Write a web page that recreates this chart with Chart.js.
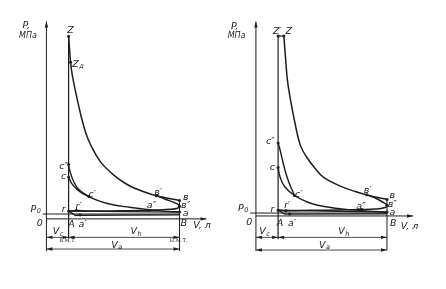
<!DOCTYPE html>
<html>
<head>
<meta charset="utf-8">
<script src="https://cdn.jsdelivr.net/npm/chart.js@4/dist/chart.umd.min.js"></script>
<style>
  html, body { margin: 0; padding: 0; background: #fff; }
  #wrap { position: relative; width: 446px; height: 289px; }
  .panel { position: absolute; top: 0; width: 223px; height: 289px; }
</style>
</head>
<body>
<div id="wrap">
  <div class="panel" style="left:0"><canvas id="left" width="223" height="289"></canvas></div>
  <div class="panel" style="left:223px"><canvas id="right" width="223" height="289"></canvas></div>
</div>
<script>
"use strict";

// Units: V in multiples of Vc (O = 0, ВМТ = 1), P in MPa-ish (x axis = 0).

// ---- left diagram (spark ignition) ----
const L_EXPANSION = [[1.00, 6.06], [1.04, 5.65], [1.09, 5.20], [1.17, 4.75], [1.35, 4.10], [1.57, 3.39],
  [1.78, 2.84], [2.00, 2.45], [2.43, 1.90], [3.09, 1.42], [3.74, 1.10], [4.39, 0.90], [5.04, 0.75], [6.00, 0.61]];
const L_EXHAUST_REAL = [[4.96, 0.77], [5.39, 0.645], [5.74, 0.55], [5.96, 0.47], [6.00, 0.42], [5.91, 0.355],
  [5.57, 0.316], [5.04, 0.297], [4.61, 0.284], [3.74, 0.27], [2.87, 0.265], [1.87, 0.265], [1.35, 0.274], [1.00, 0.258]];
const L_COMPRESSION = [[6.00, 0.226], [5.26, 0.258], [4.61, 0.306], [3.74, 0.387], [3.00, 0.468], [2.43, 0.58],
  [1.91, 0.742], [1.57, 0.871], [1.35, 1.00], [1.13, 1.19], [1.00, 1.387]];
const L_IGNITION = [[1.91, 0.742], [1.70, 0.839], [1.43, 1.00], [1.26, 1.19], [1.13, 1.42], [1.04, 1.645], [1.00, 1.806]];
const L_EXHAUST = [[6.00, 0.226], [1.00, 0.258]];
const L_INTAKE = [[1.00, 0.258], [1.30, 0.12], [6.00, 0.135]];
const L_P0 = [[-0.17, 0.161], [6.00, 0.161]];
const L_YAXIS = [[0, -1.065], [0, 6.55]];
const L_XAXIS = [[0, 0], [7.22, 0]];
const L_TDC = [[1, -0.645], [1, 6.06]];
const L_BDC = [[6, -1.065], [6, 0.61]];
const L_DIM1 = [[0, -0.613], [6, -0.613]];
const L_DIM2 = [[0, -1.0], [6, -1.0]];
const L_DOTS = [[1, 6.06], [1.09, 5.2], [1, 1.806], [1, 1.387], [1.91, 0.742], [4.96, 0.77], [6, 0.61], [6, 0.42],
  [6, 0.226], [4.61, 0.284], [1, 0.258], [1.35, 0.274], [1.52, 0.125]];
const L_ARROWS = [[0, 6.55, "up"], [7.22, 0, "right"], [0, -0.613, "left"], [1, -0.613, "right"], [1, -0.613, "left"],
  [6, -0.613, "right"], [0, -1.0, "left"], [6, -1.0, "right"]];
const L_LABELS = [
  ["P,", "", -0.91, 6.42, "n"], ["МПа", "", -0.83, 6.06, "u"], ["Z", "", 1.09, 6.26, "n"], ["Z", "д", 1.42, 5.13, "n"],
  ["c″", "", 0.78, 1.74, "n"], ["c", "", 0.78, 1.39, "n"], ["c′", "", 2.06, 0.81, "n"],
  ["в′", "", 5.04, 0.87, "n"], ["в", "", 6.28, 0.71, "n"], ["в″", "", 6.28, 0.45, "n"], ["а", "", 6.28, 0.19, "n"],
  ["а″", "", 4.74, 0.45, "n"], ["P", "0", -0.48, 0.32, "n"], ["r", "", 0.78, 0.32, "n"], ["r′", "", 1.45, 0.42, "n"],
  ["0", "", -0.30, -0.16, "n"], ["A", "", 1.13, -0.19, "n"], ["а′", "", 1.63, -0.19, "n"], ["B", "", 6.19, -0.16, "n"],
  ["V, л", "", 7.02, -0.23, "n"], ["V", "c", 0.52, -0.42, "n"], ["V", "h", 4.04, -0.42, "n"], ["V", "a", 3.17, -0.87, "n"],
  ["В.М.Т.", "", 0.96, -0.74, "s"], ["Н.М.Т.", "", 5.96, -0.74, "s"],
];

// ---- right diagram (diesel) ----
const R_EXPANSION = [[1.26, 5.97], [1.35, 5.10], [1.43, 4.45], [1.57, 3.81], [1.74, 3.16], [2.00, 2.35], [2.30, 1.94],
  [2.70, 1.55], [3.04, 1.29], [3.78, 1.00], [4.48, 0.81], [5.09, 0.68], [5.91, 0.55]];
const R_EXHAUST_REAL = [[5.00, 0.70], [5.43, 0.58], [5.74, 0.45], [5.91, 0.355], [5.78, 0.27], [5.35, 0.23],
  [4.78, 0.216], [3.78, 0.20], [2.48, 0.187], [1.35, 0.174], [1.00, 0.19]];
const R_COMPRESSION = [[5.91, 0.129], [5.09, 0.161], [4.22, 0.21], [3.57, 0.258], [2.78, 0.355], [2.26, 0.48],
  [1.74, 0.68], [1.30, 0.97], [1.09, 1.29], [1.00, 1.61]];
const R_IGNITION = [[1.74, 0.68], [1.48, 1.13], [1.30, 1.55], [1.17, 1.94], [1.09, 2.19], [1.00, 2.42]];
const R_ZZ = [[1.00, 5.97], [1.26, 5.97]];
const R_EXHAUST = [[5.91, 0.129], [1.00, 0.19]];
const R_INTAKE = [[1.00, 0.19], [1.30, 0.06], [5.91, 0.07]];
const R_P0 = [[-0.26, 0.097], [5.91, 0.097]];
const R_YAXIS = [[0, -1.16], [0, 6.45]];
const R_XAXIS = [[0, 0], [7.09, 0]];
const R_TDC = [[1, -0.774], [1, 5.97]];
const R_BDC = [[5.91, -1.13], [5.91, 0.55]];
const R_DIM1 = [[0, -0.71], [5.91, -0.71]];
const R_DIM2 = [[0, -1.13], [5.91, -1.13]];
const R_DOTS = [[1, 5.97], [1.26, 5.97], [1, 2.42], [1, 1.61], [1.74, 0.68], [5.0, 0.70], [5.91, 0.55], [5.91, 0.355],
  [5.91, 0.129], [4.78, 0.216], [1, 0.19], [1.35, 0.174], [1.52, 0.065]];
const R_ARROWS = [[0, 6.45, "up"], [7.09, 0, "right"], [0, -0.71, "left"], [1, -0.71, "right"], [1, -0.71, "left"],
  [5.91, -0.71, "right"], [0, -1.13, "left"], [5.91, -1.13, "right"]];
const R_LABELS = [
  ["P,", "", -0.96, 6.29, "n"], ["МПа", "", -0.87, 5.97, "u"], ["Z′", "", 0.96, 6.13, "n"], ["Z", "", 1.48, 6.13, "n"],
  ["c″", "", 0.65, 2.48, "n"], ["c", "", 0.74, 1.61, "n"], ["c′", "", 1.93, 0.70, "n"],
  ["в′", "", 5.04, 0.83, "n"], ["в", "", 6.15, 0.68, "n"], ["в″", "", 6.15, 0.39, "n"], ["а", "", 6.15, 0.13, "n"],
  ["а″", "", 4.74, 0.32, "n"], ["P", "0", -0.57, 0.26, "n"], ["r", "", 0.74, 0.23, "n"], ["r′", "", 1.41, 0.35, "n"],
  ["0", "", -0.30, -0.23, "n"], ["A", "", 1.09, -0.26, "n"], ["а′", "", 1.63, -0.26, "n"], ["B", "", 6.19, -0.26, "n"],
  ["V, л", "", 6.93, -0.35, "n"], ["V", "c", 0.39, -0.52, "n"], ["V", "h", 3.96, -0.52, "n"], ["V", "a", 3.09, -0.97, "n"],
];

const INK = "#1d1d1d";
const FONT = "'DejaVu Sans', sans-serif";

const pts = (arr) => arr.map(([x, y]) => ({ x, y }));

function lineSet(arr, width, tension) {
  return {
    data: pts(arr), showLine: true, borderColor: INK, borderWidth: width,
    pointRadius: 0, tension: tension || 0, fill: false,
  };
}

function dotSet(arr) {
  return { data: pts(arr), showLine: false, pointRadius: 1.5, pointBackgroundColor: INK, pointBorderWidth: 0 };
}

function arrowHead(ctx, px, py, dir) {
  const L = 6, W = 1.7;
  ctx.beginPath();
  ctx.moveTo(px, py);
  if (dir === "up") { ctx.lineTo(px - W, py + L); ctx.lineTo(px + W, py + L); }
  else if (dir === "right") { ctx.lineTo(px - L, py - W); ctx.lineTo(px - L, py + W); }
  else { ctx.lineTo(px + L, py - W); ctx.lineTo(px + L, py + W); }
  ctx.closePath();
  ctx.fill();
}

// Text labels and arrowheads, placed through the chart's own scales.
function overlay(labels, arrows) {
  return {
    id: "overlay",
    afterDatasetsDraw(chart) {
      const { ctx, scales: { x, y } } = chart;
      ctx.save();
      ctx.fillStyle = INK;
      arrows.forEach(([v, p, dir]) => arrowHead(ctx, x.getPixelForValue(v), y.getPixelForValue(p), dir));
      ctx.textBaseline = "middle";
      ctx.textAlign = "left";
      labels.forEach(([t, sub, v, p, kind]) => {
        const px = x.getPixelForValue(v), py = y.getPixelForValue(p);
        const main = kind === "s" ? "5px 'DejaVu Serif', serif"
          : kind === "u" ? "italic 8px " + FONT : "italic 9.5px " + FONT;
        ctx.font = main;
        const w1 = ctx.measureText(t).width;
        ctx.font = "italic 6.5px " + FONT;
        const w2 = sub ? ctx.measureText(sub).width + 0.5 : 0;
        const x0 = px - (w1 + w2) / 2;
        ctx.font = main;
        ctx.fillText(t, x0, py);
        if (sub) {
          ctx.font = "italic 6.5px " + FONT;
          ctx.fillText(sub, x0 + w1 + 0.5, py + 2.5);
        }
      });
      ctx.restore();
    },
  };
}

function drawPanel(id, d) {
  new Chart(document.getElementById(id), {
    type: "scatter",
    data: {
      datasets: [
        lineSet(d.yaxis, 1), lineSet(d.xaxis, 1), lineSet(d.tdc, 1.2), lineSet(d.bdc, 1),
        lineSet(d.dim1, 0.8), lineSet(d.dim2, 0.8), lineSet(d.p0, 1),
        lineSet(d.exhaust, 1.3), lineSet(d.intake, 1.3),
        lineSet(d.expansion, 1.5, 0.4), lineSet(d.exhaustReal, 1.5, 0.4),
        lineSet(d.compression, 1.4, 0.4), lineSet(d.ignition, 1.4, 0.4),
        ...(d.zz ? [lineSet(d.zz, 1.2)] : []),
        dotSet(d.dots),
      ],
    },
    plugins: [overlay(d.labels, d.arrows)],
    options: {
      responsive: false, animation: false, events: [],
      layout: { padding: 0 },
      scales: {
        x: { type: "linear", display: false, min: d.xmin, max: d.xmax },
        y: { type: "linear", display: false, min: d.ymin, max: d.ymax },
      },
      plugins: { legend: { display: false }, tooltip: { enabled: false } },
    },
  });
}

// left: O at (44, 221) px, 23 px per Vc, 31 px per MPa
drawPanel("left", {
  xmin: -44 / 23, xmax: (223 - 44) / 23, ymin: -(289 - 221) / 31, ymax: 221 / 31,
  yaxis: L_YAXIS, xaxis: L_XAXIS, tdc: L_TDC, bdc: L_BDC, dim1: L_DIM1, dim2: L_DIM2, p0: L_P0,
  exhaust: L_EXHAUST, intake: L_INTAKE, expansion: L_EXPANSION, exhaustReal: L_EXHAUST_REAL,
  compression: L_COMPRESSION, ignition: L_IGNITION, dots: L_DOTS, labels: L_LABELS, arrows: L_ARROWS,
});

// right: O at (30, 218) px within its panel
drawPanel("right", {
  xmin: -30 / 23, xmax: (223 - 30) / 23, ymin: -(289 - 218) / 31, ymax: 218 / 31,
  yaxis: R_YAXIS, xaxis: R_XAXIS, tdc: R_TDC, bdc: R_BDC, dim1: R_DIM1, dim2: R_DIM2, p0: R_P0,
  exhaust: R_EXHAUST, intake: R_INTAKE, expansion: R_EXPANSION, exhaustReal: R_EXHAUST_REAL,
  compression: R_COMPRESSION, ignition: R_IGNITION, zz: R_ZZ, dots: R_DOTS, labels: R_LABELS, arrows: R_ARROWS,
});
</script>
</body>
</html>
